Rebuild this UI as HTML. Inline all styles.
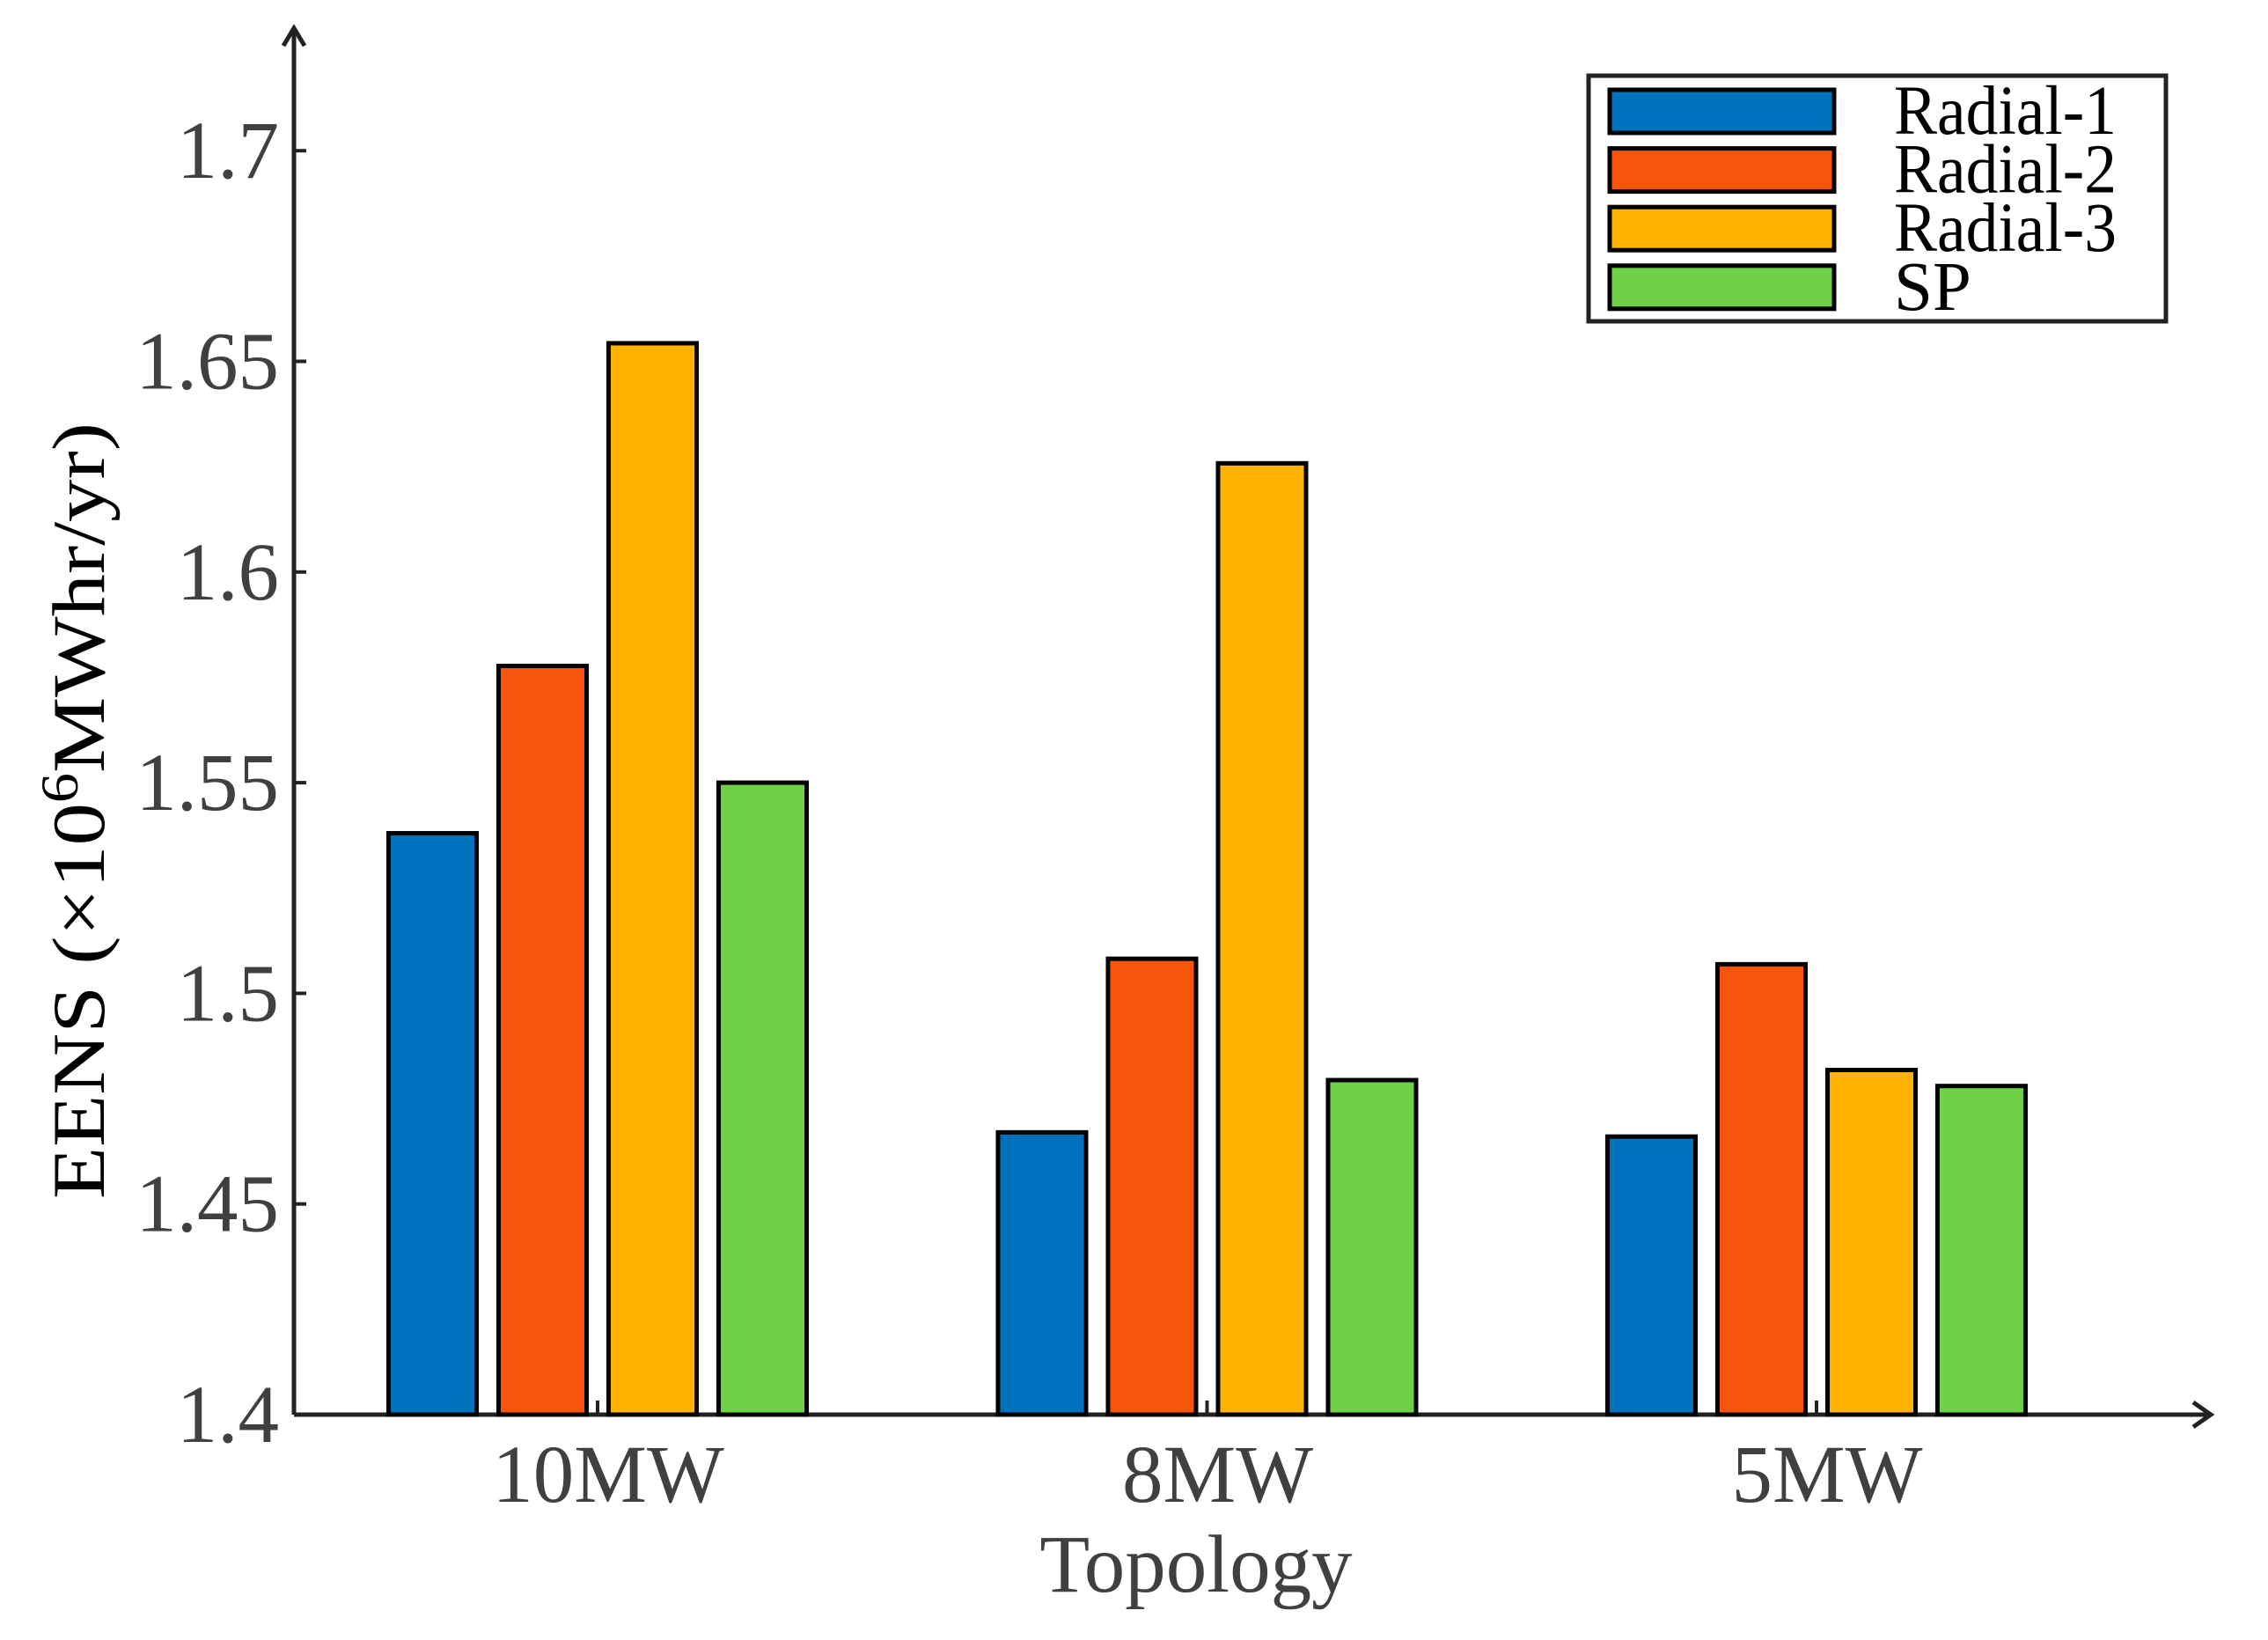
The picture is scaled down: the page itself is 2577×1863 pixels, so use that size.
<!DOCTYPE html>
<html><head><meta charset="utf-8"><style>
html,body{margin:0;padding:0;background:#fff;}
svg{display:block;}
text{font-family:"Liberation Serif",serif;}
</style></head><body>
<svg id="chart" width="2577" height="1863" viewBox="0 0 2577 1863" xmlns="http://www.w3.org/2000/svg">
<g id="axes"></g>
<g id="bars"></g>
<g id="legend"></g>
</svg>
<script>
const categories = ["10MW", "8MW", "5MW"];
const seriesNames = ["Radial-1", "Radial-2", "Radial-3", "SP"];
const radial1 = [1.538, 1.467, 1.466];
const radial2 = [1.5777, 1.5082, 1.5069];
const radial3 = [1.6543, 1.6258, 1.4818];
const sp = [1.550, 1.4794, 1.478];
const yTicks = [1.4, 1.45, 1.5, 1.55, 1.6, 1.65, 1.7];
const yTickLabels = ["1.4", "1.45", "1.5", "1.55", "1.6", "1.65", "1.7"];

const colors = ["#0072BD", "#F7550C", "#FFB300", "#6FD145"];
const NS = "http://www.w3.org/2000/svg";
const X0 = 334, BASE = 1607, YMIN = 1.4, PX_PER = 239.3/0.05;
const y = v => BASE - (v - YMIN) * PX_PER;
const groupCenter = i => 679 + i * 692.5;
const BW = 100, GAP = 25;
function mk(tag, attrs, parent) {
  const e = document.createElementNS(NS, tag);
  for (const k in attrs) e.setAttribute(k, attrs[k]);
  parent.appendChild(e);
  return e;
}
const axes = document.getElementById('axes');
const bars = document.getElementById('bars');
const legend = document.getElementById('legend');
const allSeries = [radial1, radial2, radial3, sp];

allSeries.forEach((vals, s) => {
  vals.forEach((v, i) => {
    const x = groupCenter(i) - 2*BW - 1.5*GAP + s*(BW+GAP);
    const r = mk('rect', {x: x, y: y(v), width: BW, height: BASE - y(v), fill: colors[s], stroke: '#000', 'stroke-width': 5}, bars);
    
    
  });
});

const ya = mk('path', {d: `M${X0} ${BASE} V32 M${X0-12} 52 L${X0} 32 L${X0+12} 52`, stroke: '#222', 'stroke-width': 5, fill: 'none'}, axes);


const xa = mk('path', {d: `M${X0} ${BASE} H2512 M2492 ${BASE-14} L2512 ${BASE} L2492 ${BASE+14}`, stroke: '#222', 'stroke-width': 5, fill: 'none'}, axes);



yTicks.forEach((t, i) => {
  const tk = mk('line', {x1: X0, x2: X0+14, y1: y(t), y2: y(t), stroke: '#222', 'stroke-width': 4}, axes);
  
  
  const tl = mk('text', {x: 317, y: y(t) + 31, 'text-anchor': 'end', 'font-size': 93, fill: '#404040'}, axes);
  tl.textContent = yTickLabels[i];
  
  
});
categories.forEach((c, i) => {
  const tk = mk('line', {x1: groupCenter(i), x2: groupCenter(i), y1: BASE, y2: BASE-16, stroke: '#222', 'stroke-width': 4}, axes);
  
  
  const tl = mk('text', {x: groupCenter(i) + 12, y: 1706, 'text-anchor': 'middle', 'font-size': 93, fill: '#404040'}, axes);
  tl.textContent = c;
  
  
});
const xt = mk('text', {x: 1359, y: 1808, 'text-anchor': 'middle', 'font-size': 93, fill: '#404040'}, axes);
xt.textContent = 'Topology';


const yt = mk('text', {x: 0, y: 0, 'text-anchor': 'middle', 'font-size': 85, fill: '#000', transform: 'translate(118 921) rotate(-90)', textLength: 882, lengthAdjust: 'spacingAndGlyphs'}, axes);
yt.innerHTML = 'EENS (×10<tspan dy="-30" font-size="60">6</tspan><tspan dy="30">MWhr/yr)</tspan>';



const lb = mk('rect', {x: 1805, y: 86, width: 656, height: 279, fill: '#fff', stroke: '#222', 'stroke-width': 5}, legend);


seriesNames.forEach((n, s) => {
  const ty = 102 + s * 66.6;
  const sw = mk('rect', {x: 1829, y: ty, width: 255, height: 49, fill: colors[s], stroke: '#000', 'stroke-width': 5}, legend);
  
  
  const attrs = {x: 2152, y: ty + 50, 'font-size': 79, fill: '#000'};
  if (n !== 'SP') { attrs.textLength = 253; attrs.lengthAdjust = 'spacingAndGlyphs'; }
  const tl = mk('text', attrs, legend);
  tl.textContent = n;
  
  
});
</script>
</body></html>
